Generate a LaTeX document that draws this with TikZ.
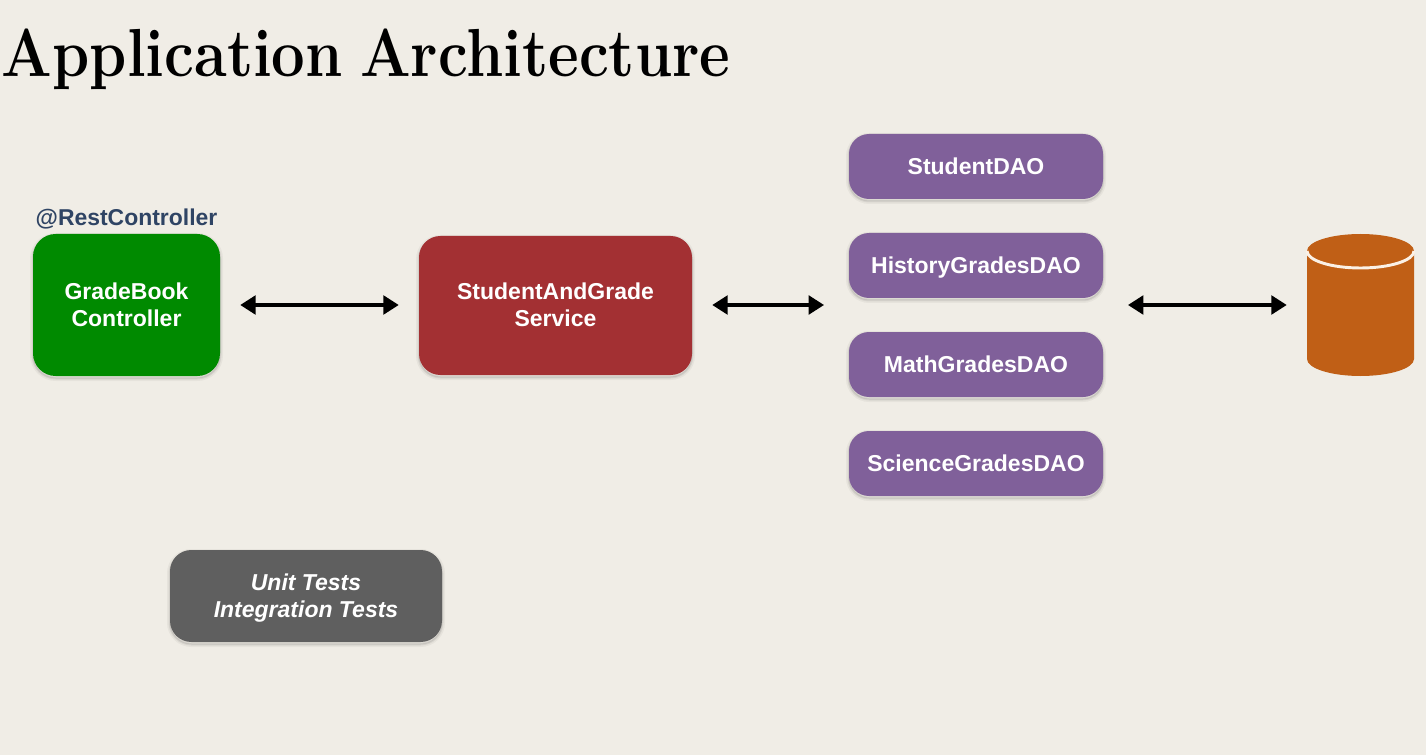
\documentclass[tikz,border=0pt]{standalone}
\usepackage{fontspec}
\usetikzlibrary{arrows.meta}
\newfontfamily\labelsans{Liberation Sans}
\definecolor{bgc}{HTML}{F0EDE6}
\definecolor{greenc}{HTML}{008A00}
\definecolor{redc}{HTML}{A33033}
\definecolor{purplec}{HTML}{80609A}
\definecolor{grayc}{HTML}{5F5F5F}
\definecolor{orangec}{HTML}{C05F16}
\definecolor{anno}{HTML}{2F4464}
\definecolor{rimc}{HTML}{FBF1E6}
\tikzset{
  softshadow/.style={
    preaction={draw=black,draw opacity=.04,line width=4.5pt,fill=none,transform canvas={yshift=-1.5pt}},
    preaction={draw=black,draw opacity=.06,line width=2.25pt,fill=none,transform canvas={yshift=-1.5pt}},
    preaction={draw=black,draw opacity=.08,line width=.75pt,fill=none,transform canvas={yshift=-1.5pt}}
  },
  box/.style={rectangle,softshadow,text=white,align=center,inner sep=0pt,
    font=\labelsans\bfseries\fontsize{17.25}{20.25}\selectfont},
  daobox/.style={box,fill=purplec,minimum width=190.5pt,minimum height=48.75pt,rounded corners=15pt,text height=12.4pt,text depth=0pt},
  link/.style={line width=2.4pt,{Triangle[length=11.5pt,width=14pt]}-{Triangle[length=11.5pt,width=14pt]}},
}
\begin{document}
\begin{tikzpicture}[x=0.75pt,y=-0.75pt]
\useasboundingbox (0,0) rectangle (1426,755);
\fill[bgc] (0,0) rectangle (1426,755);
\node[anchor=base west,inner sep=0pt,font=\bfseries\fontsize{51}{55}\selectfont] (title) at (1.5,77) {\spaceskip=.29em\scalebox{0.878}[1]{Application Architecture}};
\node[box,fill=greenc,minimum width=140.25pt,minimum height=106.5pt,rounded corners=17pt] (ctrl) at (126.5,305) {GradeBook\\Controller\rule[-.75pt]{0pt}{0pt}};
\node[anchor=base,inner sep=0pt,text=anno,font=\labelsans\bfseries\fontsize{17.2}{20}\selectfont] (restlabel) at (126.5,226) {@RestController};
\node[box,fill=redc,minimum width=204.75pt,minimum height=104.25pt,rounded corners=16pt] (svc) at (555.5,305.5) {StudentAndGrade\\Service\rule[-1.5pt]{0pt}{0pt}};
\node[daobox] (d1) at (976,166.5) {StudentDAO};
\node[daobox] (d2) at (976,265.5) {HistoryGradesDAO};
\node[daobox] (d3) at (976,364.5) {MathGradesDAO};
\node[daobox] (d4) at (976,463.5) {ScienceGradesDAO};
\node[box,fill=grayc,minimum width=204pt,minimum height=69pt,rounded corners=16pt,font=\labelsans\bfseries\itshape\fontsize{17.25}{20.25}\selectfont] (tests) at (306,596) {\rule{0pt}{15.4pt}Unit Tests\\Integration Tests};
% database
\node[rectangle,minimum width=80.25pt,minimum height=106.5pt,inner sep=0pt] (db) at (1360.5,305) {};
\fill[orangec] (1307,251) arc[start angle=180,end angle=0,x radius=53.5,y radius=-17]
  -- (1414,359) arc[start angle=0,end angle=-180,x radius=53.5,y radius=-17] -- cycle;
\draw[rimc,line width=2.2pt] (1307,251) arc[start angle=180,end angle=360,x radius=53.5,y radius=-17];
% connectors
\coordinate (daoL) at (849,305);
\coordinate (daoR) at (1103,305);
\draw[link,shorten <=15pt,shorten >=15pt] (ctrl.east) -- (ctrl.east -| svc.west);
\draw[link] ([xshift=15pt]svc.east |- ctrl.east) -- ([xshift=-18.75pt]daoL);
\draw[link] ([xshift=18.75pt]daoR) -- ([xshift=-15pt]db.west);
\end{tikzpicture}
\end{document}
